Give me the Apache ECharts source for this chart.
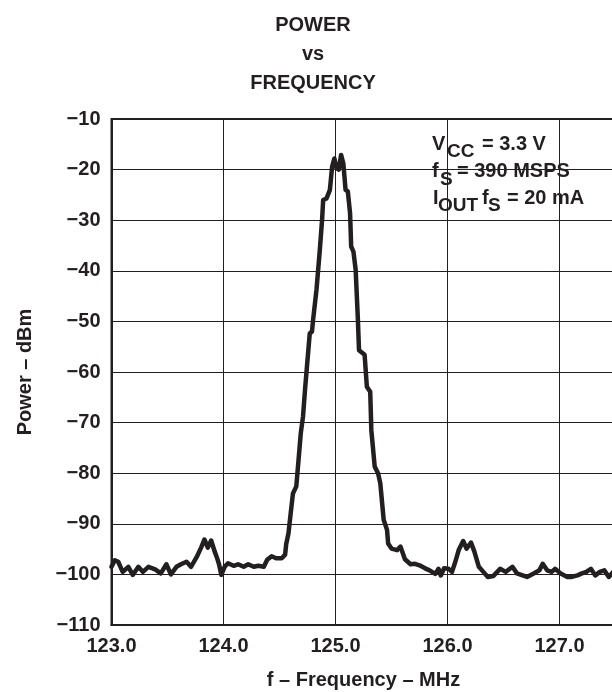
<!DOCTYPE html>
<html>
<head>
<meta charset="utf-8">
<title>Power vs Frequency</title>
<script src="https://cdn.jsdelivr.net/npm/echarts@6/dist/echarts.min.js"></script>
<style>
  html, body { margin: 0; padding: 0; background: #fff; }
  #chart { width: 612px; height: 692px; }
</style>
</head>
<body>
<div id="chart"></div>
<script>
// frequency (MHz) and power (dBm)
var freq = [
  123.00, 123.03, 123.06, 123.10, 123.15, 123.19, 123.24, 123.28, 123.33, 123.39,
  123.44, 123.49, 123.53, 123.58, 123.62, 123.67, 123.71, 123.76, 123.80, 123.83,
  123.86, 123.89, 123.92, 123.94, 123.96, 123.98, 124.01, 124.04, 124.09, 124.13,
  124.18, 124.22, 124.27, 124.31, 124.36, 124.39, 124.43, 124.47, 124.52, 124.55,
  124.56, 124.58, 124.60, 124.62, 124.65, 124.67, 124.69, 124.71, 124.73, 124.74,
  124.76, 124.77, 124.79, 124.80, 124.83, 124.86, 124.88, 124.89, 124.92, 124.95,
  124.97, 124.99, 125.01, 125.03, 125.05, 125.07, 125.09, 125.11, 125.13, 125.14,
  125.16, 125.18, 125.20, 125.21, 125.26, 125.28, 125.31, 125.32, 125.35, 125.38,
  125.40, 125.43, 125.46, 125.47, 125.50, 125.55, 125.58, 125.62, 125.67, 125.71,
  125.75, 125.80, 125.84, 125.89, 125.92, 125.94, 125.97, 126.01, 126.04, 126.07,
  126.10, 126.14, 126.17, 126.21, 126.24, 126.28, 126.32, 126.36, 126.41, 126.47,
  126.52, 126.58, 126.62, 126.67, 126.71, 126.77, 126.82, 126.85, 126.89, 126.93,
  126.96, 127.01, 127.07, 127.11, 127.16, 127.20, 127.24, 127.28, 127.32, 127.36,
  127.40, 127.44, 127.48
];
var power = [
  -98.5, -97.2, -97.5, -99.5, -98.5, -100.1, -98.5, -99.5, -98.5, -99.0,
  -99.8, -98.0, -100.0, -98.5, -98.0, -97.5, -98.5, -96.6, -94.7, -93.1,
  -94.7, -93.3, -95.4, -96.6, -98.0, -100.1, -98.5, -97.8, -98.3, -98.0,
  -98.5, -98.0, -98.5, -98.3, -98.5, -97.1, -96.4, -96.8, -96.8, -96.1,
  -94.0, -91.9, -87.9, -84.0, -82.6, -77.4, -72.1, -68.8, -62.9, -60.3,
  -55.0, -52.4, -52.0, -49.7, -43.8, -35.9, -30.0, -26.0, -25.7, -24.0,
  -19.4, -17.8, -19.7, -20.0, -17.1, -18.8, -24.0, -24.3, -28.6, -35.2,
  -36.2, -39.8, -49.7, -55.7, -56.6, -62.9, -63.9, -71.5, -78.7, -80.0,
  -82.0, -89.2, -91.2, -93.9, -94.9, -95.2, -94.5, -97.0, -98.0, -97.9,
  -98.2, -98.8, -99.2, -99.9, -98.9, -100.2, -98.8, -98.9, -99.5, -97.5,
  -95.2, -93.4, -94.9, -93.7, -95.5, -98.5, -99.5, -100.5, -100.3, -98.9,
  -99.5, -98.5, -99.8, -100.2, -100.5, -99.8, -99.2, -97.9, -99.2, -99.5,
  -98.9, -99.8, -100.5, -100.5, -100.2, -99.8, -99.5, -98.9, -100.2, -99.5,
  -99.2, -100.5, -99.5
];
var xTicks = [123, 124, 125, 126, 127];
var titleLines = ['POWER', 'vs', 'FREQUENCY'];

var ink = '#231F20';
var fontFam = '"Liberation Sans", Arial, Helvetica, sans-serif';

var chart = echarts.init(document.getElementById('chart'));

var lineData = [];
for (var i = 0; i < freq.length; i++) {
  lineData.push([freq[i], power[i]]);
}

function txt(x, y, s, size) {
  return {
    type: 'text',
    x: x,
    y: y,
    style: {
      text: s,
      fill: ink,
      font: 'bold ' + size + 'px ' + fontFam,
      verticalAlign: 'middle'
    }
  };
}

chart.setOption({
  animation: false,
  grid: {
    left: 111.5,
    top: 119,
    width: 504,
    height: 506,
    outerBoundsMode: 'none',
    show: true,
    borderColor: ink,
    borderWidth: 2
  },
  xAxis: {
    type: 'value',
    min: 123,
    max: 127.5,
    interval: 1,
    name: 'f \u2013 Frequency \u2013 MHz',
    nameLocation: 'middle',
    nameGap: 45,
    nameTextStyle: { color: ink, fontSize: 20, fontWeight: 'bold', fontFamily: fontFam },
    axisLine: { lineStyle: { color: ink, width: 2 } },
    axisTick: { show: false },
    axisLabel: {
      color: ink,
      fontSize: 20,
      fontWeight: 'bold',
      fontFamily: fontFam,
      margin: 11,
      formatter: function (v) {
        return xTicks.indexOf(v) >= 0 ? v.toFixed(1) : '';
      }
    },
    splitLine: { show: true, lineStyle: { color: ink, width: 1 } }
  },
  yAxis: {
    type: 'value',
    min: -110,
    max: -10,
    interval: 10,
    name: 'Power \u2013 dBm',
    nameLocation: 'middle',
    nameGap: 76,
    nameTextStyle: { color: ink, fontSize: 20, fontWeight: 'bold', fontFamily: fontFam },
    axisLine: { show: true, lineStyle: { color: ink, width: 2 } },
    axisTick: { show: false },
    axisLabel: {
      color: ink,
      fontSize: 20,
      fontWeight: 'bold',
      fontFamily: fontFam,
      margin: 11,
      formatter: function (v) {
        return '\u2212' + Math.abs(v);
      }
    },
    splitLine: { show: true, lineStyle: { color: ink, width: 1 } }
  },
  graphic: [
    {
      type: 'text',
      x: 313,
      y: 11,
      style: {
        text: titleLines.join('\n'),
        fill: ink,
        font: 'bold 20px ' + fontFam,
        align: 'center',
        lineHeight: 29
      }
    },
    // test conditions, subscripts placed by hand
    txt(432, 144, 'V', 20),
    txt(447, 152, 'CC', 19),
    txt(482, 144, '= 3.3 V', 20),
    txt(432, 171, 'f', 20),
    txt(440, 180, 'S', 19),
    txt(457, 171, '= 390 MSPS', 20),
    txt(433, 198, 'I', 20),
    txt(438, 206, 'OUT', 19),
    txt(482, 198, 'f', 20),
    txt(488, 206, 'S', 19),
    txt(507, 198, '= 20 mA', 20)
  ],
  series: [
    {
      type: 'line',
      data: lineData,
      showSymbol: false,
      smooth: false,
      lineStyle: { color: ink, width: 4.5, join: 'round', cap: 'round' }
    }
  ]
});
</script>
</body>
</html>
